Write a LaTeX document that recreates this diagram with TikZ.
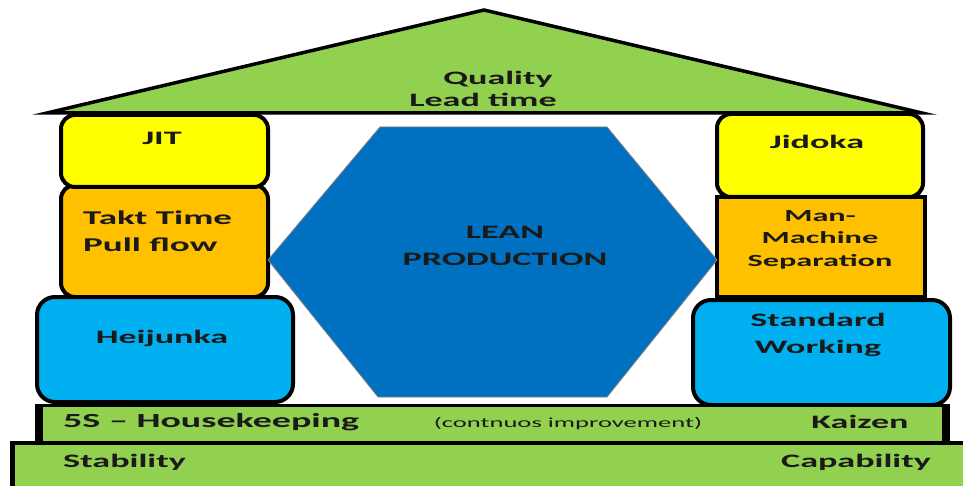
\documentclass[tikz,border=0pt]{standalone}
\usepackage{fontspec}
\newfontfamily\lbl[FakeStretch=1.9]{Carlito}
\definecolor{roofgreen}{HTML}{92D050}
\definecolor{jityellow}{HTML}{FFFF00}
\definecolor{taktorange}{HTML}{FFC000}
\definecolor{lightblue}{HTML}{00B0F0}
\definecolor{leanblue}{HTML}{0070C0}
\definecolor{txtdark}{HTML}{1A1A1A}
\begin{document}
\begin{tikzpicture}[x=1pt,y=-1pt,
  pillar/.style={draw=black, line width=4pt, rounded corners=14pt, inner sep=0pt},
  sqpillar/.style={draw=black, line width=4pt, inner sep=0pt},
  txt/.style={font=\lbl\bfseries\fontsize{19}{27}\selectfont, text=txtdark, align=center, inner sep=0pt},
  tinytxt/.style={txt, font=\lbl\fontsize{14}{16}\selectfont},
  plain/.style={inner sep=0pt, outer sep=0pt},
]
\useasboundingbox (0,0) rectangle (963,486);
% roof
\coordinate (roofL) at (47,113);
\coordinate (apex) at (484,10);
\coordinate (roofR) at (922,113);
\path[fill=roofgreen, draw=black, line width=3.5pt, line join=miter] (roofL) -- (apex) -- (roofR) -- cycle;
\node[txt] (quality) at (498,79) {Quality};
\node[txt] (leadtime) at (483,100) {Lead time};

% left pillar
\node[pillar, fill=taktorange, minimum width=207pt, minimum height=112pt] (takt) at (164.5,241) {};
\node[pillar, fill=jityellow, minimum width=207pt, minimum height=72pt] (jit) at (164.5,151) {};
\node[pillar, fill=lightblue, minimum width=256pt, minimum height=105pt, rounded corners=18pt] (heij) at (165,349.5) {};
\node[txt] (jittxt) at (162,138) {JIT};
\node[txt, align=left, anchor=west, font=\lbl\bfseries\fontsize{19.5}{27}\selectfont] (takttxt) at (83,231.5) {Takt Time\\Pull flow};
\node[txt] (heijtxt) at (162,338) {Heijunka};

% right pillar
\node[pillar, fill=jityellow, minimum width=206pt, minimum height=83pt] (jid) at (820,155.5) {};
\node[sqpillar, fill=taktorange, minimum width=208pt, minimum height=100pt] (mms) at (821,247) {};
\node[pillar, fill=lightblue, minimum width=257pt, minimum height=105pt, rounded corners=18pt] (std) at (821.5,352.5) {};
\node[txt] (jidtxt) at (817,142) {Jidoka};
\node[txt, font=\lbl\bfseries\fontsize{17}{22.5}\selectfont] (mmstxt) at (820,239.5) {Man-\\Machine\\Separation};
\node[txt] (stdtxt) at (818,335) {Standard\\Working};

% hexagon
\coordinate (hL) at (268,260);
\coordinate (hTL) at (380,127);
\coordinate (hTR) at (607,127);
\coordinate (hR) at (717,260);
\coordinate (hBR) at (607,397);
\coordinate (hBL) at (378,397);
\path[fill=leanblue, draw=gray, line width=0.8pt] (hL) -- (hTL) -- (hTR) -- (hR) -- (hBR) -- (hBL) -- cycle;
\node[txt] (leantxt) at (505,246) {LEAN\\PRODUCTION};

% 5S bar
\node[plain, fill=black, minimum width=915pt, minimum height=41pt] (fivesshadow) at (492.5,424.5) {};
\node[plain, fill=roofgreen, minimum width=899pt, minimum height=35pt] (fives) at (492.5,424) {};
\node[txt, anchor=west, font=\lbl\bfseries\fontsize{20}{27}\selectfont] (fivestxt) at (63,422) {5S – Housekeeping};
\node[tinytxt] (contxt) at (568,424) {(contnuos improvement)};
\node[txt] (kaizentxt) at (860,422) {Kaizen};

% base bar
\node[plain, fill=black, minimum width=953pt, minimum height=45pt] (baseshadow) at (486.5,463.5) {};
\node[plain, fill=roofgreen, minimum width=948pt, minimum height=41pt] (base) at (489,465.5) {};
\node[txt, anchor=west] (stabtxt) at (63,462) {Stability};
\node[txt] (captxt) at (856,462) {Capability};
\end{tikzpicture}
\end{document}
